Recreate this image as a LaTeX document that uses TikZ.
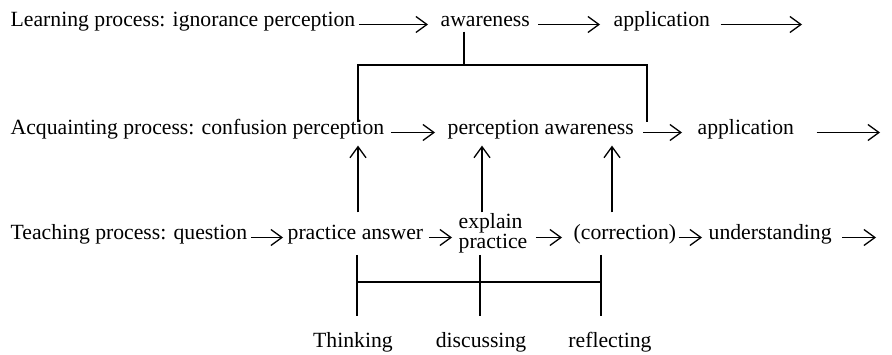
\documentclass[tikz,border=0pt]{standalone}
\usepackage{fontspec}
\setmainfont{Liberation Serif}
\usetikzlibrary{arrows.meta}
\begin{document}
\begin{tikzpicture}[x=1pt,y=1pt,line width=1.3pt,
        font=\fontsize{21.7}{16.5}\selectfont,
        txt/.style={anchor=base west,inner sep=0pt,text height=0.7em,text depth=0.2em},
        lbl/.style={anchor=base,inner sep=0pt},
        arr/.style={-{Straight Barb[length=11pt,width=16pt,line width=1.3pt]}}]
    \useasboundingbox (0,0) rectangle (892,-355);
    % learning row
    \node[txt] (lp) at (10,-27) {Learning process: ignorance perception};
    \node[txt] (aw) at (440,-27) {awareness};
    \node[txt] (ap1) at (613,-27) {application};
    \coordinate (e1) at (802,0);
    \draw[arr] ([xshift=3pt]lp.east) -- ([xshift=-12pt]aw.west);
    \draw[arr] ([xshift=8pt]aw.east) -- ([xshift=-13pt]ap1.west);
    \draw[arr] ([xshift=10pt]ap1.east) -- (ap1.east -| e1);
    % acquainting row
    \node[txt] (ac) at (10,-135) {Acquainting process: confusion perception};
    \node[txt] (pw) at (447,-135) {perception awareness};
    \node[txt] (ap2) at (697,-135) {application};
    \coordinate (e2) at (880,0);
    \draw[arr] ([xshift=6pt]ac.east) -- ([xshift=-12pt]pw.west);
    \draw[arr] ([xshift=9pt]pw.east) -- ([xshift=-15pt]ap2.west);
    \draw[arr] ([xshift=22pt]ap2.east) -- (ap2.east -| e2);
    % teaching row
    \node[txt] (tq) at (10,-240) {Teaching process: question};
    \node[txt] (pa) at (287,-240) {practice answer};
    \node[inner sep=0pt,align=left,anchor=west] (ep) at (458,-233) {explain\\practice};
    \node[txt] (co) at (573,-240) {(correction)};
    \node[txt] (un) at (708,-240) {understanding};
    \coordinate (e3) at (876,0);
    \draw[arr] ([xshift=3pt]tq.east) -- ([xshift=-4pt]pa.west);
    \draw[arr] ([xshift=5pt]pa.east) -- ([xshift=-6pt]pa.east -| ep.west);
    \draw[arr] ([xshift=8pt]co.west -| ep.east) -- ([xshift=-11pt]co.west);
    \draw[arr] ([xshift=2pt]co.east) -- ([xshift=-6pt]un.west);
    \draw[arr] ([xshift=10pt]un.east) -- (un.east -| e3);
    % upward arrows
    \foreach \x/\up in {358/ac,482/pw,612/pw}
        \draw[arr,shorten <=20pt,shorten >=8pt] (\x,0 |- pa.north) -- (\x,0 |- \up.south);
    % top bracket
    \coordinate (tl) at (358,-65);
    \coordinate (tm) at (464,-65);
    \coordinate (tr) at (647,-65);
    \draw[shorten <=2pt] (aw.south -| tm) -- (tm);
    \draw[shorten <=5pt,shorten >=5pt] (tl |- ac.north) -- (tl) -- (tr) -- (tr |- pw.north);
    % bottom bracket
    \coordinate (bl) at (357,-282);
    \coordinate (bm) at (480,-282);
    \coordinate (br) at (601,-282);
    \foreach \c in {bl,bm,br}
        \draw (\c) ++(0,27) -- ++(0,-61);
    \draw (bl) -- (br);
    \node[lbl] (th) at (353,-348) {Thinking};
    \node[lbl] (di) at (481,-348) {discussing};
    \node[lbl] (re) at (610,-348) {reflecting};
\end{tikzpicture}
\end{document}
